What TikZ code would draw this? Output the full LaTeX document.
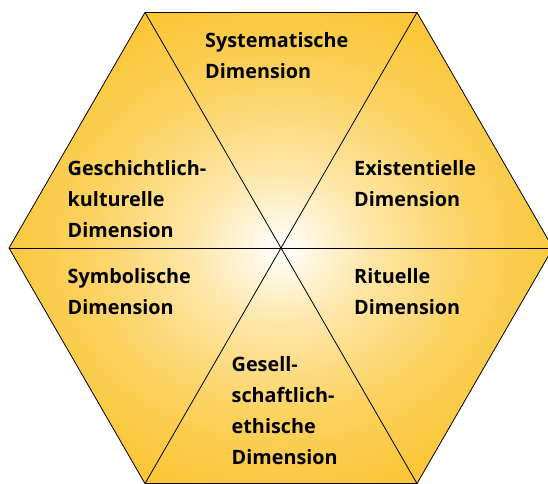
\documentclass[tikz,border=0pt]{standalone}
\usepackage{fontspec}
\setmainfont{Open Sans}
\usetikzlibrary{positioning}
\definecolor{hexgold}{RGB}{250,186,12}
\pgfdeclareradialshading{hexglow}{\pgfpoint{0bp}{0bp}}{%
  color(0bp)=(white); color(8bp)=(hexgold!35!white); color(18bp)=(hexgold!66!white);
  color(30bp)=(hexgold!88!white); color(40bp)=(hexgold);
  color(50bp)=(hexgold)}

\begin{document}
\begin{tikzpicture}[
  x=1pt, y=1pt,
  spoke/.style={draw, line width=0.8pt},
  dimlabel/.style={anchor=base west, align=left, inner sep=0pt,
    font=\fontsize{19.8}{31}\selectfont\bfseries}]
\useasboundingbox (-281,-235) rectangle (267,248);
% Eckpunkte
\foreach \i in {0,...,5}
  \coordinate (v\i) at (\i*60:272);
\coordinate (mitte) at (0,0);
\shade[shading=hexglow] (v0) -- (v1) -- (v2) -- (v3) -- (v4) -- (v5) -- cycle;
\draw[spoke] (v0) -- (v1) -- (v2) -- (v3) -- (v4) -- (v5) -- cycle;
\foreach \i in {0,...,5}
  \draw[spoke] (mitte) -- (v\i);
% Dimensionen (base = letzte Zeile)
\node[dimlabel] (sys) at (-76,170) {Systematische\\Dimension};
\node[dimlabel] (gesch) at (-213.5,11) {Geschichtlich-\\kulturelle\\Dimension};
\node[dimlabel] (exist) at (73,42) {Existentielle\\Dimension};
\node[dimlabel] (symb) at (-213.5,-66) {Symbolische\\Dimension};
\node[dimlabel] (rit) at (73,-66) {Rituelle\\Dimension};
\node[dimlabel] (gesell) at (-49.5,-216) {Gesell-\\schaftlich-\\ethische\\Dimension};
\end{tikzpicture}
\end{document}
